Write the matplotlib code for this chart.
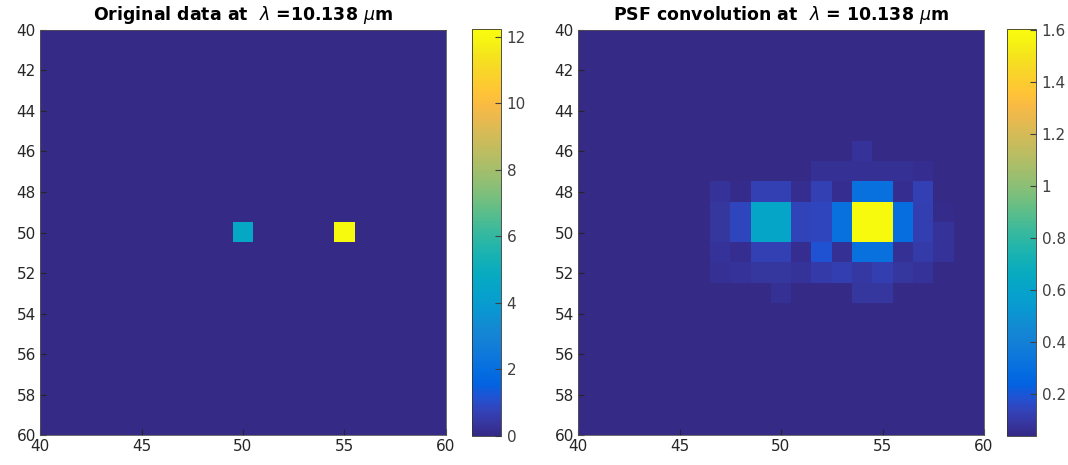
import numpy as np
import matplotlib
matplotlib.use('Agg')
import matplotlib.pyplot as plt
from matplotlib.colors import LinearSegmentedColormap

# pixel grid shown in both panels
coords = np.arange(40, 61)

# original data: two point sources (row, col, value)
src_rows = [50, 50]
src_cols = [50, 55]
src_vals = [4.6, 12.23]

# PSF-convolved patch, rows 46..53, cols 47..58, rest is background
psf_bg = 0.04
psf_rows = list(range(46, 54))
psf_cols = list(range(47, 59))
b = psf_bg
psf_patch = [
    [b,    b,    b,    b,    b,    b,    b,    0.08, b,    b,    b,    b],
    [b,    b,    b,    b,    b,    0.07, 0.07, 0.07, 0.07, 0.07, 0.06, b],
    [0.08, 0.05, 0.13, 0.13, 0.06, 0.13, 0.06, 0.31, 0.31, 0.06, 0.13, b],
    [0.09, 0.15, 0.62, 0.62, 0.14, 0.15, 0.31, 1.60, 1.60, 0.30, 0.12, 0.05],
    [0.09, 0.15, 0.62, 0.62, 0.14, 0.15, 0.31, 1.60, 1.60, 0.30, 0.12, 0.08],
    [0.08, 0.06, 0.13, 0.13, 0.06, 0.19, 0.07, 0.31, 0.31, 0.07, 0.11, 0.08],
    [0.07, 0.08, 0.09, 0.09, 0.08, 0.11, 0.12, 0.10, 0.12, 0.09, 0.08, b],
    [b,    b,    b,    0.07, b,    b,    b,    0.09, 0.09, b,    b,    b],
]

# MATLAB parula, subsampled
parula_pts = [
    (0.2081, 0.1663, 0.5292), (0.2123, 0.2138, 0.6270), (0.1959, 0.2645, 0.7279),
    (0.1253, 0.3242, 0.8303), (0.0117, 0.3875, 0.8820), (0.0165, 0.4266, 0.8786),
    (0.0498, 0.4586, 0.8641), (0.0723, 0.4887, 0.8467), (0.0793, 0.5200, 0.8312),
    (0.0641, 0.5570, 0.8240), (0.0343, 0.5966, 0.8199), (0.0239, 0.6287, 0.8038),
    (0.0228, 0.6535, 0.7768), (0.0384, 0.6743, 0.7436), (0.0843, 0.6928, 0.7062),
    (0.1453, 0.7098, 0.6646), (0.2178, 0.7250, 0.6193), (0.3022, 0.7376, 0.5712),
    (0.3953, 0.7459, 0.5244), (0.4871, 0.7491, 0.4840), (0.5709, 0.7485, 0.4494),
    (0.6473, 0.7456, 0.4188), (0.7184, 0.7411, 0.3905), (0.7858, 0.7356, 0.3633),
    (0.8507, 0.7299, 0.3360), (0.9139, 0.7258, 0.3063), (0.9739, 0.7314, 0.2666),
    (0.9990, 0.7653, 0.2164), (0.9880, 0.8066, 0.1794), (0.9697, 0.8481, 0.1475),
    (0.9589, 0.8949, 0.1132), (0.9661, 0.9514, 0.0755), (0.9763, 0.9831, 0.0538),
]
parula = LinearSegmentedColormap.from_list('parula', parula_pts, N=256)

n = len(coords)
orig = np.zeros((n, n))
for r, c, v in zip(src_rows, src_cols, src_vals):
    orig[r - 40, c - 40] = v

conv = np.full((n, n), psf_bg)
for i, r in enumerate(psf_rows):
    for j, c in enumerate(psf_cols):
        conv[r - 40, c - 40] = psf_patch[i][j]

plt.rcParams['font.family'] = ['DejaVu Sans']
tick_col = '#262626'

fig = plt.figure(figsize=(10.68, 4.65), dpi=100)
W, H = 1068, 465

panels = [
    (orig, r'Original data at  $\lambda$ =10.138 $\mu$m', 40, 472, [0, 2, 4, 6, 8, 10, 12], (0, 12.23)),
    (conv, r'PSF convolution at  $\lambda$ = 10.138 $\mu$m', 578, 1007,
     [0.2, 0.4, 0.6, 0.8, 1, 1.2, 1.4, 1.6], (psf_bg, 1.605)),
]

for data, title, ax_x, cb_x, cticks, (vmin, vmax) in panels:
    ax = fig.add_axes([ax_x / W, 30 / H, 406 / W, 405 / H])
    im = ax.imshow(data, cmap=parula, vmin=vmin, vmax=vmax, interpolation='nearest',
                   extent=(39.5, 60.5, 60.5, 39.5), aspect='auto')
    ax.set_xlim(40, 60)
    ax.set_ylim(60, 40)
    ax.set_xticks([40, 45, 50, 55, 60])
    ax.set_yticks(np.arange(40, 61, 2))
    ax.tick_params(direction='in', length=4, labelsize=11, colors=tick_col, pad=3)
    for s in ax.spines.values():
        s.set_color('#555555')
        s.set_linewidth(0.6)
    ax.set_title(title, fontsize=12.5, fontweight='bold', pad=7)

    cax = fig.add_axes([cb_x / W, 29 / H, 29 / W, 407 / H])
    cb = fig.colorbar(im, cax=cax, ticks=cticks)
    cb.ax.set_yticklabels([f'{t:g}' for t in cticks])
    cb.ax.tick_params(direction='in', length=4, labelsize=11, colors='#404040', pad=4)
    cb.outline.set_edgecolor('#333333')
    cb.outline.set_linewidth(0.6)

fig.savefig('out.png', dpi=100)
